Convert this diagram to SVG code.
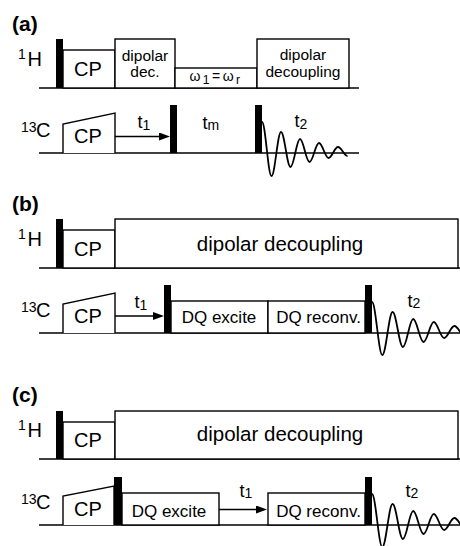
<svg xmlns="http://www.w3.org/2000/svg" width="460" height="546" viewBox="0 0 460 546">
<defs>
<style>
text{font-family:"Liberation Sans",Arial,Helvetica,sans-serif;fill:#000}
.lbl{font-size:21px;font-weight:bold}
.nuc{font-size:20px}
.sup{font-size:14px}
.cp{font-size:20px;text-anchor:middle}
.sm{font-size:15.5px;text-anchor:middle}
.dd{font-size:20.5px;text-anchor:middle}
.dq{font-size:17px;text-anchor:middle}
.t{font-size:18px}
.sub{font-size:14px}
.ln{stroke:#000;stroke-width:1.4;fill:none}
.box{stroke:#000;stroke-width:1.4;fill:#fff}
.pulse{fill:#000}
.fid{stroke:#000;stroke-width:1.8;fill:none}
.arr{stroke:#000;stroke-width:1.4;fill:none;marker-end:url(#ah)}
</style>
<marker id="ah" markerUnits="userSpaceOnUse" markerWidth="12" markerHeight="10" refX="7" refY="4" orient="auto">
<path d="M0,0 L11,4 L0,8 z" fill="#000"/>
</marker>
</defs>

<rect width="460" height="546" fill="#fff"/>

<!-- Panel (a) -->
<g id="panel-a">
<text class="lbl" x="12" y="31">(a)</text>
<g id="a-1H">
<text class="sup" x="18" y="58.5">1</text><text class="nuc" x="27.5" y="65.5">H</text>
<line class="ln" x1="39" y1="88" x2="359" y2="88"/>
<rect class="box" x="63" y="50" width="52" height="38"/>
<rect class="box" x="115" y="39" width="60" height="49"/>
<rect class="box" x="175" y="68" width="82" height="20"/>
<rect class="box" x="257" y="39" width="92" height="49"/>
<rect class="pulse" x="56" y="39" width="7" height="49"/>
<text class="cp" x="88" y="76">CP</text>
<text class="sm" x="145" y="60.5">dipolar</text>
<text class="sm" x="145" y="77">dec.</text>
<text x="216" y="80.5" style="font-size:14px;text-anchor:middle;letter-spacing:2.5px">ω<tspan class="sub" style="font-size:12px" dy="3">1</tspan><tspan dy="-3">=ω</tspan><tspan style="font-size:12px" dy="3">r</tspan></text>
<text class="sm" x="303" y="60">dipolar</text>
<text class="sm" x="303" y="77">decoupling</text>
</g>
<g id="a-13C">
<text class="sup" x="21" y="131.5">13</text><text class="nuc" x="36" y="137">C</text>
<line class="ln" x1="39" y1="153" x2="359" y2="153"/>
<path class="box" d="M63,153 V124 L115,113 V153"/>
<text class="cp" x="88" y="143">CP</text>
<rect class="pulse" x="170" y="105" width="7" height="48"/>
<rect class="pulse" x="255" y="105" width="7" height="48"/>
<text class="t" x="137.5" y="128">t<tspan class="sub" dy="1.5">1</tspan></text>
<text class="t" x="202.5" y="129">t<tspan class="sub" dy="1">m</tspan></text>
<text class="t" x="294.5" y="127.3">t<tspan class="sub" dy="2">2</tspan></text>
<path class="fid" d="M262,122 C265.5,122 268,176 271.5,176 C275,176 277.5,132 281,132 C284.5,132 287,167 290.5,167 C294,167 296.5,139 300,139 C303.5,139 306,162 309.5,162 C313,162 315.5,143 319,143 C322.5,143 325,158 328.5,158 C332,158 334.5,147 338,147 C341.5,147 344,156 347.5,156"/>
</g>
</g>

<!-- Panel (b) -->
<g id="panel-b">
<text class="lbl" x="12" y="211">(b)</text>
<g id="b-1H">
<text class="sup" x="18" y="238.5">1</text><text class="nuc" x="27.5" y="245.5">H</text>
<line class="ln" x1="39" y1="268" x2="460" y2="268"/>
<rect class="box" x="63" y="230" width="52" height="38"/>
<rect class="box" x="115" y="219" width="343" height="49"/>
<rect class="pulse" x="56" y="219" width="7" height="49"/>
<text class="cp" x="88" y="256">CP</text>
<text class="dd" x="280" y="251">dipolar decoupling</text>
</g>
<g id="b-13C">
<text class="sup" x="21" y="311.5">13</text><text class="nuc" x="36" y="317">C</text>
<line class="ln" x1="39" y1="333" x2="460" y2="333"/>
<path class="box" d="M63,333 V304 L115,293 V333"/>
<text class="cp" x="88" y="323">CP</text>
<rect class="pulse" x="164" y="285" width="7" height="48"/>
<rect class="box" x="171" y="301" width="97" height="32"/>
<rect class="box" x="268" y="301" width="97" height="32"/>
<rect class="pulse" x="365" y="285" width="7" height="48"/>
<text class="dq" x="219" y="323">DQ excite</text>
<text class="dq" x="318.5" y="323">DQ reconv.</text>
<text class="t" x="134.5" y="308">t<tspan class="sub" dy="1.5">1</tspan></text>
<text class="t" x="407.5" y="306.7">t<tspan class="sub" dy="1.5">2</tspan></text>
<path class="fid" d="M372,302 C375.75,302 378.55,355 382.3,355 C386.05,355 388.85,312 392.6,312 C396.35,312 399.15,347 402.9,347 C406.65,347 409.45,319 413.2,319 C416.95,319 419.75,342 423.5,342 C427.25,342 430.05,322 433.8,322 C437.55,322 440.35,338 444.1,338 C447.85,338 450.65,326 454.4,326 C458.15,326 460.95,336 464.7,336"/>
</g>
</g>

<!-- Panel (c) -->
<g id="panel-c">
<text class="lbl" x="12" y="402">(c)</text>
<g id="c-1H">
<text class="sup" x="18" y="429.5">1</text><text class="nuc" x="27.5" y="436.5">H</text>
<line class="ln" x1="39" y1="459" x2="460" y2="459"/>
<rect class="box" x="63" y="422" width="52" height="37"/>
<rect class="box" x="115" y="411" width="343" height="48"/>
<rect class="pulse" x="56" y="411" width="7" height="48"/>
<text class="cp" x="88" y="447">CP</text>
<text class="dd" x="280" y="441">dipolar decoupling</text>
</g>
<g id="c-13C">
<text class="sup" x="21" y="503.5">13</text><text class="nuc" x="36" y="509">C</text>
<line class="ln" x1="39" y1="525" x2="460" y2="525"/>
<path class="box" d="M63,525 V496 L114,486 V525"/>
<text class="cp" x="88" y="516">CP</text>
<rect class="pulse" x="114" y="477" width="8" height="48"/>
<rect class="box" x="122" y="493" width="97" height="32"/>
<rect class="box" x="268" y="493" width="97" height="32"/>
<rect class="pulse" x="365" y="477" width="7" height="48"/>
<text class="dq" x="169" y="516.5">DQ excite</text>
<text class="dq" x="318.5" y="516.5">DQ reconv.</text>
<text class="t" x="239.5" y="496.5">t<tspan class="sub" dy="1.5">1</tspan></text>
<text class="t" x="405.5" y="496.7">t<tspan class="sub" dy="1.5">2</tspan></text>
<path class="fid" d="M372,494 C375.75,494 378.55,547 382.3,547 C386.05,547 388.85,504 392.6,504 C396.35,504 399.15,539 402.9,539 C406.65,539 409.45,511 413.2,511 C416.95,511 419.75,534 423.5,534 C427.25,534 430.05,514 433.8,514 C437.55,514 440.35,530 444.1,530 C447.85,530 450.65,518 454.4,518 C458.15,518 460.95,528 464.7,528"/>
</g>
</g>

<!-- Connectors: evolution-time arrows -->
<g id="connectors">
<line class="arr" x1="115" y1="136.5" x2="166" y2="136.5"/>
<line class="arr" x1="115" y1="316" x2="160" y2="316"/>
<line class="arr" x1="219" y1="509.5" x2="263" y2="509.5"/>
</g>
</svg>
